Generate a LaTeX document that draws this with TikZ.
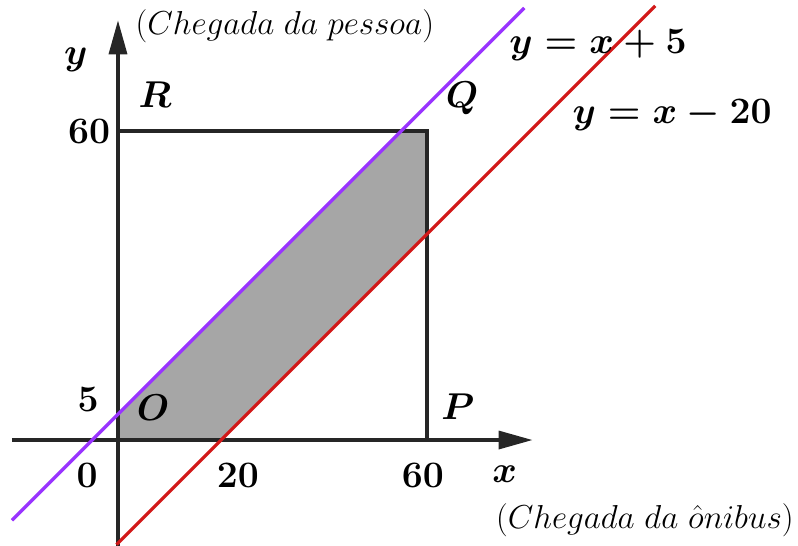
\documentclass[tikz,border=0pt]{standalone}
\usepackage{amsmath}
\usepackage{amssymb}
\usepackage{tikz}
\usetikzlibrary{arrows.meta, positioning, calc}
\tikzset{every node/.append style={align=center, inner sep=1pt}}

\begin{document}
\begin{tikzpicture}[x=5.15pt, y=5.15pt, font=\fontsize{20}{24}\selectfont\boldmath,
    lb/.style={scale=1.8},
    ax/.style={-{Triangle[length=34pt, width=18pt]}, line width=3.4pt, black!85},
    bx/.style={line width=3.4pt, black!85},
    lp/.style={line width=3.2pt, draw={rgb,255:red,153;green,51;blue,255}},
    lr/.style={line width=3.2pt, draw={rgb,255:red,210;green,25;blue,25}},
    t/.style={scale=1.6, font=\fontsize{20}{24}\selectfont\unboldmath}]
\useasboundingbox (-22.91,-20.39) rectangle (132.04,85.44);
% pontos
\coordinate (O) at (0,0);
\coordinate (P) at (60,0);
\coordinate (Q) at (60,60);
\coordinate (R) at (0,60);
% regiao
\fill[fill={rgb,255:red,166;green,166;blue,166}] (0,0) -- (20,0) -- (60,40) -- (60,60) -- (55,60) -- (0,5) -- cycle;
\draw[bx] (O) -- (R) -- (Q) -- (P);
% eixos
\coordinate (xs) at (-20.6,0);
\coordinate (xe) at (80.5,0);
\coordinate (ys) at (0,-20.6);
\coordinate (ye) at (0,81.5);
\draw[ax] (xs) -- (xe);
\draw[ax] (ys) -- (ye);
% retas
\coordinate (a1) at (-20.6,-15.6);
\coordinate (a2) at (78.9,83.9);
\coordinate (b1) at (-0.3,-20.3);
\coordinate (b2) at (104.3,84.3);
\draw[lp] (a1) -- (a2);
\draw[lr] (b1) -- (b2);
% rotulos
\node[lb] (ly) at (-8.2,73.8) {$y$};
\node[lb] (lx) at (75.1,-6.6) {$x$};
\node[t] (tp) at (32.4,80.3) {$(Chegada\ da\ pessoa)$};
\node[t] (to) at (102.3,-15.6) {$(Chegada\ da\ \hat{o}nibus)$};
\node[lb] (nR) at (7.2,67.0) {$R$};
\node[lb] (nQ) at (66.8,66.4) {$Q$};
\node[lb] (nO) at (6.8,6.2) {$O$};
\node[lb] (nP) at (66.0,6.4) {$P$};
\node[lb] (y60) at (-5.6,60) {$60$};
\node[lb] (y5) at (-5.8,7.8) {$5$};
\node[lb] (x0) at (-6.0,-6.8) {$0$};
\node[lb] (x20) at (23.3,-6.8) {$20$};
\node[lb] (x60) at (59.2,-6.8) {$60$};
\node[lb] (ea) at (93.2,76.7) {$y = x + 5$};
\node[lb] (eb) at (107.6,63.1) {$y = x - 20$};
\end{tikzpicture}
\end{document}
